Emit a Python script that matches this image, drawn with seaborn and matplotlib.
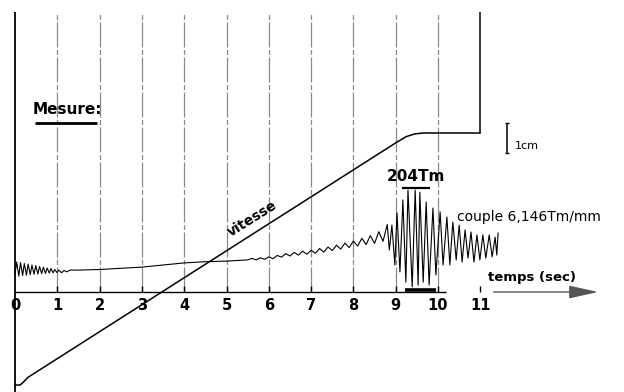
import numpy as np
import pandas as pd
import seaborn as sns
import matplotlib
matplotlib.use("Agg")
import matplotlib.pyplot as plt

# time axis (s) and traces in mm of recording (1 cm = 10 mm)
ticks = [0, 1, 2, 3, 4, 5, 6, 7, 8, 9, 10, 11]

vit_t = [0.0, 0.12, 0.2, 0.3, 9.0, 9.25, 9.45, 9.65, 11.0]
vit_y = [-31.0, -31.0, -30.0, -28.5, 49.7, 51.8, 52.7, 53.0, 53.0]

couple_t = [0.00, 0.04, 0.09, 0.13, 0.18, 0.22, 0.27, 0.31, 0.36, 0.40, 0.45, 0.49,
            0.54, 0.58, 0.63, 0.67, 0.72, 0.76, 0.81, 0.85, 0.90, 0.94, 0.99, 1.04,
            1.10, 1.16, 1.22, 1.30, 1.5, 2.0, 2.5, 3.0, 3.5, 4.0, 4.5, 5.0, 5.5,
            5.6, 5.7, 5.8, 5.9, 6.0, 6.1, 6.2, 6.3, 6.4, 6.5, 6.6, 6.7, 6.8, 6.9,
            7.0, 7.1, 7.2, 7.3, 7.4, 7.5, 7.6, 7.7, 7.8, 7.9, 8.0, 8.1, 8.2, 8.3,
            8.4, 8.5, 8.6, 8.7, 8.8, 8.85, 8.91, 8.98, 9.03, 9.10, 9.17, 9.24,
            9.29, 9.39, 9.46, 9.53, 9.57, 9.65, 9.72, 9.79, 9.88, 9.95, 10.05,
            10.12, 10.21, 10.28, 10.35, 10.43, 10.50, 10.57, 10.64, 10.71, 10.78,
            10.85, 10.92, 10.99, 11.06, 11.13, 11.21, 11.28, 11.35, 11.39, 11.42]
couple_y = [6.0, 10.0, 5.3, 9.8, 5.5, 9.5, 5.6, 9.3, 5.8, 9.0, 5.9, 8.8,
            6.0, 8.5, 6.1, 8.3, 6.2, 8.0, 6.3, 7.8, 6.4, 7.5, 6.5, 7.3,
            6.4, 7.2, 6.7, 7.3, 7.3, 7.5, 7.9, 8.3, 9.0, 9.7, 10.1, 10.3, 10.7,
            11.2, 10.7, 11.4, 10.9, 11.7, 11.1, 12.2, 11.6, 12.8, 12.0, 13.2, 12.3, 13.6, 12.6,
            13.9, 12.9, 14.5, 13.3, 15.0, 13.8, 15.6, 14.3, 16.3, 14.8, 17.0, 15.3, 17.9, 15.8,
            18.8, 16.2, 20.1, 16.9, 22.5, 14.0, 22.3, 9.0, 26.3, 6.7, 30.7, 3.3,
            34.0, 1.7, 34.0, 2.3, 33.3, 3.3, 30.0, 2.3, 28.0, 5.7, 26.7,
            9.0, 25.0, 9.0, 23.3, 10.7, 22.3, 10.0, 20.7, 11.3, 20.0,
            10.0, 19.0, 10.7, 19.0, 11.3, 19.0, 11.7, 18.3, 12.3, 19.7]

sns.set_style("white")
plt.rcParams['font.family'] = ['DejaVu Sans']
plt.rcParams['text.color'] = 'black'

fig = plt.figure(figsize=(6.24, 3.92), dpi=100)
ax = fig.add_axes([0, 0, 1, 1])
ax.set_xlim(-0.355, 14.397)
ax.set_ylim(-33.33, 97.33)
ax.axis('off')

# grid lines
for t in ticks[1:11]:
    ax.vlines(t, 0, 93.3, color='#8a8a8a', lw=0.9, linestyles=(0, (20, 2, 4, 2)))
ax.vlines(0, -33.3, 93.3, color='black', lw=1.3)
ax.vlines(11, 53, 93.3, color='black', lw=1.1)
for t in ticks[1:]:
    ax.vlines(t, 0, 2.0, color='black', lw=1.0)

# time axis
ax.hlines(0, 0, 10.2, color='black', lw=1.0)
ax.annotate('', xy=(13.85, 0), xytext=(11.25, 0),
            arrowprops=dict(arrowstyle='-|>,head_length=1.8,head_width=0.4',
                            color='#555555', lw=1.0))

df_v = pd.DataFrame({'t': vit_t, 'y': vit_y})
df_c = pd.DataFrame({'t': couple_t, 'y': couple_y})
sns.lineplot(data=df_v, x='t', y='y', ax=ax, color='black', lw=1.1, sort=False, estimator=None)
sns.lineplot(data=df_c, x='t', y='y', ax=ax, color='black', lw=0.8, sort=False, estimator=None)

# peak-to-peak markers
ax.hlines(34.7, 9.15, 9.81, color='black', lw=1.6)
ax.hlines(0.7, 9.22, 9.95, color='black', lw=2.6)
ax.text(9.48, 38.5, '204Tm', ha='center', va='center', fontsize=11, fontweight='bold')

for t in ticks:
    ax.text(t, -4.5, str(t), ha='center', va='center', fontsize=10.5, fontweight='bold')

ax.text(12.22, 5.0, 'temps (sec)', ha='center', va='center', fontsize=9.5, fontweight='bold')
ax.text(10.45, 25.0, 'couple 6,146Tm/mm', ha='left', va='center', fontsize=10)
ax.text(0.42, 60.7, 'Mesure:', ha='left', va='center', fontsize=11, fontweight='bold')
ax.hlines(56.3, 0.47, 1.94, color='black', lw=2)
ax.text(5.6, 24.5, 'vitesse', ha='center', va='center', fontsize=10, fontweight='bold', rotation=32)

# 1 cm scale bar
ax.vlines(11.63, 46.3, 56.3, color='black', lw=1.1)
ax.hlines([46.3, 56.3], 11.58, 11.68, color='black', lw=1.0)
ax.text(11.82, 48.7, '1cm', ha='left', va='center', fontsize=8)

fig.savefig('out.png', dpi=100)
